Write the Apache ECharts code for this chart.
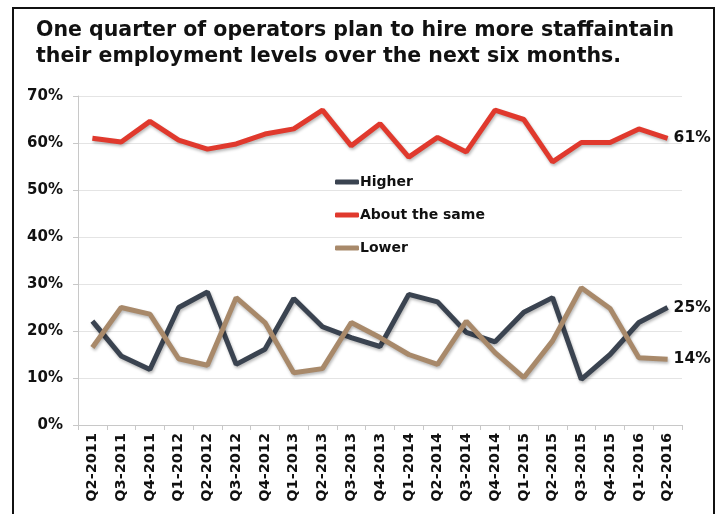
<!DOCTYPE html>
<html>
<head>
<meta charset="utf-8">
<script src="https://cdn.jsdelivr.net/npm/echarts@6/dist/echarts.min.js"></script>
<style>
  html, body { margin: 0; padding: 0; background: #fff; }
  #chart { width: 719px; height: 514px; }
</style>
</head>
<body>
<div id="chart"></div>
<script>
// Quarterly survey periods
const quarters = [
  'Q2-2011', 'Q3-2011', 'Q4-2011', 'Q1-2012', 'Q2-2012', 'Q3-2012', 'Q4-2012',
  'Q1-2013', 'Q2-2013', 'Q3-2013', 'Q4-2013', 'Q1-2014', 'Q2-2014', 'Q3-2014',
  'Q4-2014', 'Q1-2015', 'Q2-2015', 'Q3-2015', 'Q4-2015', 'Q1-2016', 'Q2-2016'
];

// Share of operators (%) by staffing plan
const higher = [22.1, 14.7, 11.8, 25.0, 28.3, 12.9, 16.1, 26.9, 20.9, 18.6, 16.7,
  27.8, 26.2, 19.7, 17.7, 24.0, 27.1, 9.7, 15.0, 21.8, 25];
const aboutTheSame = [61.0, 60.2, 64.6, 60.6, 58.7, 59.8, 61.9, 63.0, 67.0, 59.4, 64.1,
  57.0, 61.2, 58.1, 67.0, 65.0, 56.0, 60.1, 60.1, 63.0, 61];
const lower = [16.5, 25.0, 23.6, 14.1, 12.7, 27.1, 21.8, 11.1, 12.0, 21.8, 18.6,
  15.0, 12.9, 22.1, 15.4, 10.1, 17.9, 29.2, 24.8, 14.3, 14];

// Y-axis ticks
const yMin = 0, yMax = 70, yStep = 10;

const FONT = 'DejaVu Sans, Verdana, sans-serif';

const chart = echarts.init(document.getElementById('chart'));

function lineSeries(name, data, color) {
  return {
    name: name,
    type: 'line',
    data: data,
    symbol: 'none',
    lineStyle: {
      width: 5,
      color: color,
      shadowColor: 'rgba(0,0,0,0.28)',
      shadowBlur: 3,
      shadowOffsetX: 1,
      shadowOffsetY: 2
    },
    itemStyle: { color: color },
    endLabel: {
      show: true,
      formatter: p => Math.round(p.value) + '%',
      color: '#111',
      fontFamily: FONT,
      fontWeight: 'bold',
      fontSize: 15.5,
      distance: 6
    },
    emphasis: { disabled: true }
  };
}

chart.setOption({
  backgroundColor: '#fff',
  animation: false,
  graphic: [{
    type: 'rect',
    shape: { x: 13, y: 8, width: 701, height: 520 },
    style: { fill: 'none', stroke: '#111', lineWidth: 2 }
  }],
  title: {
    text: 'One quarter of operators plan to hire more staffaintain\ntheir employment levels over the next six months.',
    left: 31,
    top: 13,
    textStyle: {
      fontFamily: FONT,
      fontWeight: 'bold',
      fontSize: 20.5,
      lineHeight: 26,
      color: '#111'
    }
  },
  legend: {
    orient: 'vertical',
    left: 330,
    top: 170,
    itemWidth: 24,
    itemHeight: 5,
    itemGap: 19,
    icon: 'roundRect',
    textStyle: {
      fontFamily: FONT,
      fontWeight: 'bold',
      fontSize: 14,
      color: '#111',
      padding: [0, 0, 0, -4]
    },
    data: ['Higher', 'About the same', 'Lower']
  },
  grid: { left: 78, right: 37, top: 96, bottom: 89 },
  xAxis: {
    type: 'category',
    data: quarters,
    boundaryGap: true,
    axisLine: { lineStyle: { color: '#c8c8c8' } },
    axisTick: { show: true, length: 5, lineStyle: { color: '#c8c8c8' } },
    axisLabel: {
      rotate: 90,
      interval: 0,
      margin: 8,
      fontFamily: FONT,
      fontWeight: 'bold',
      fontSize: 14.5,
      color: '#111'
    }
  },
  yAxis: {
    type: 'value',
    min: yMin,
    max: yMax,
    interval: yStep,
    axisLine: { show: true, lineStyle: { color: '#c8c8c8' } },
    axisTick: { show: true, length: 5, lineStyle: { color: '#c8c8c8' } },
    splitLine: { lineStyle: { color: '#e4e4e4' } },
    axisLabel: {
      formatter: '{value}%',
      margin: 15,
      fontFamily: FONT,
      fontWeight: 'bold',
      fontSize: 15,
      color: '#111'
    }
  },
  series: [
    lineSeries('Higher', higher, '#3a4350'),
    lineSeries('About the same', aboutTheSame, '#e0392d'),
    lineSeries('Lower', lower, '#a8896a')
  ]
});
</script>
</body>
</html>
